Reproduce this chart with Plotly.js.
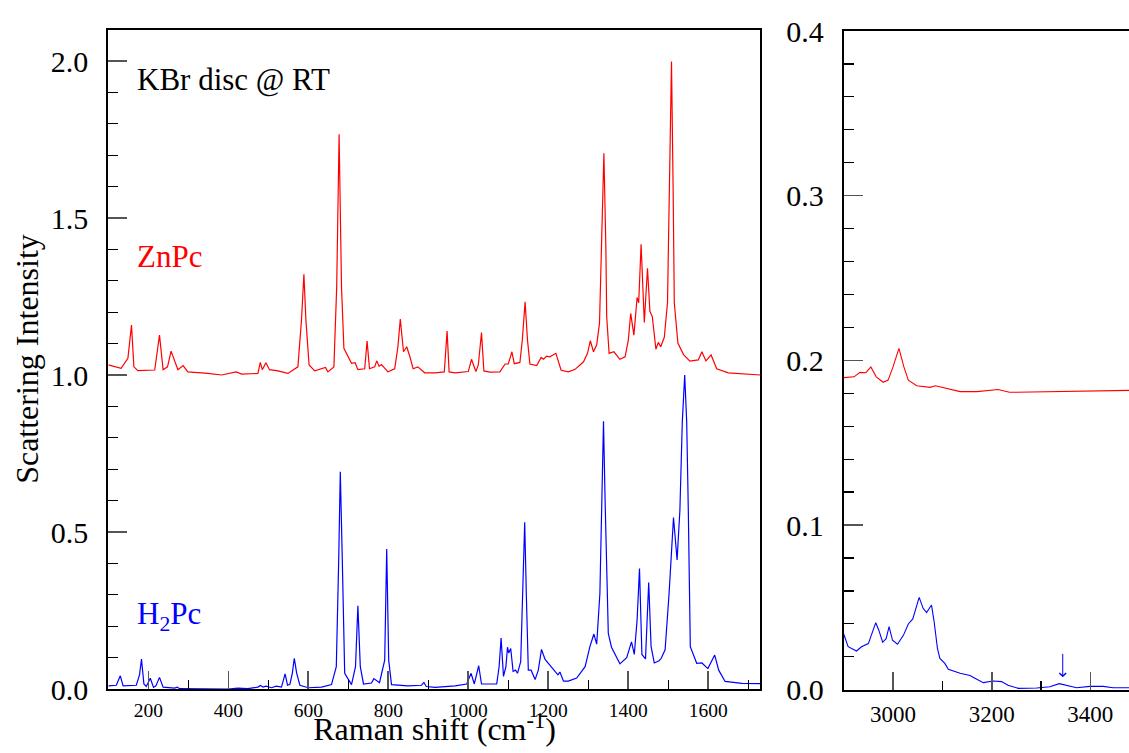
<!DOCTYPE html>
<html>
<head>
<meta charset="utf-8">
<script src="https://cdn.plot.ly/plotly-3.0.1.min.js"></script>
<style>
html,body{margin:0;padding:0;background:#fff;overflow:hidden;font-family:"Liberation Serif",serif;}
#wrap{position:relative;width:1129px;height:753px;}
#chart{position:absolute;left:0;top:0;width:1129px;height:753px;}
#chart text{font-family:"Liberation Serif","Times New Roman",serif !important;}
.lbl{position:absolute;white-space:nowrap;font-family:"Liberation Serif","Times New Roman",serif;pointer-events:none;}
.lbl sub,.lbl sup{font-size:70%;line-height:0;}
</style>
</head>
<body>
<div id="wrap">
  <div id="chart"></div>
  <div class="lbl" id="note" style="left:137px;top:64px;font-size:31px;line-height:31px;color:#000;"></div>
  <div class="lbl" id="zn" style="left:137px;top:241px;font-size:31px;line-height:31px;color:#ff0000;"></div>
  <div class="lbl" id="h2" style="left:137px;top:598px;font-size:31px;line-height:31px;color:#0000ff;"></div>
  <div class="lbl" id="ytitle" style="left:-173px;top:343px;width:400px;height:32px;text-align:center;font-size:32px;line-height:32px;color:#000;transform:rotate(-90deg);transform-origin:50% 50%;"></div>
  <div class="lbl" id="xtitle" style="left:234.5px;top:713px;width:400px;text-align:center;font-size:32px;line-height:32px;color:#000;"></div>
</div>
<script>
// ---------- Data ----------
// Fingerprint region, ZnPc (offset spectrum)
var znShift = [100,132,149,158,164,174,216,228,237,248,257,274,287,299,349,383,420,433,474,480,485,494,503,524,549,574,583,589,594,602,616,643,649,664,671,677,683,689,708,717,724,741,747,753,766,771,777,783,799,816,824,830,838,846,854,862,874,891,917,940,947,952,967,1000,1008,1019,1025,1033,1039,1054,1079,1092,1100,1109,1115,1129,1135,1142,1148,1154,1171,1182,1188,1196,1204,1219,1232,1250,1267,1288,1298,1305,1313,1321,1328,1334,1339,1344,1346,1352,1364,1379,1392,1400,1406,1414,1422,1426,1432,1440,1448,1454,1460,1469,1475,1481,1490,1498,1503,1508,1512,1515,1524,1538,1554,1575,1584,1594,1607,1621,1650,1692,1730];
var znInt = [1.032,1.021,1.053,1.159,1.026,1.014,1.016,1.127,1.017,1.026,1.076,1.017,1.030,1.010,1.005,1.000,1.010,1.003,1.005,1.040,1.017,1.039,1.017,1.013,1.005,1.026,1.175,1.321,1.175,1.032,1.013,1.024,1.010,1.026,1.281,1.767,1.281,1.085,1.037,1.039,1.017,1.020,1.108,1.020,1.026,1.045,1.028,1.033,1.010,1.020,1.090,1.178,1.074,1.090,1.058,1.020,1.026,1.007,1.007,1.010,1.140,1.010,1.007,1.011,1.050,1.011,1.032,1.135,1.013,1.009,1.010,1.035,1.035,1.074,1.036,1.040,1.111,1.233,1.111,1.035,1.030,1.056,1.050,1.060,1.058,1.069,1.015,1.010,1.018,1.042,1.069,1.109,1.074,1.096,1.165,1.450,1.706,1.400,1.186,1.069,1.074,1.050,1.058,1.111,1.196,1.127,1.247,1.230,1.416,1.167,1.340,1.203,1.186,1.082,1.104,1.090,1.120,1.230,1.600,1.998,1.600,1.230,1.102,1.065,1.044,1.048,1.074,1.045,1.064,1.020,1.007,1.003,1.000];

// Fingerprint region, H2Pc
var h2Shift = [100,120,130,137,170,178,183,189,195,205,213,219,228,237,266,272,279,399,424,449,474,480,487,494,508,520,533,537,542,548,554,560,565,571,579,600,633,658,670,676,680,685,691,708,718,724,730,738,758,764,778,791,796,801,808,849,883,889,895,917,967,996,1007,1015,1026,1033,1071,1077,1082,1088,1094,1098,1101,1106,1112,1118,1123,1131,1136,1141,1145,1150,1157,1167,1175,1183,1192,1209,1224,1229,1238,1250,1271,1292,1304,1314,1321,1329,1334,1338,1342,1347,1350,1358,1371,1379,1396,1408,1415,1422,1428,1434,1443,1451,1457,1465,1477,1482,1492,1502,1513,1522,1529,1535,1541,1546,1550,1555,1571,1584,1599,1616,1626,1642,1684,1730];
var h2Int = [0.010,0.012,0.042,0.010,0.012,0.045,0.095,0.016,0.008,0.034,0.005,0.010,0.037,0.006,0.003,0.006,0.001,0.000,0.003,0.001,0.006,0.011,0.006,0.009,0.004,0.009,0.006,0.023,0.048,0.012,0.015,0.050,0.098,0.050,0.012,0.004,0.006,0.014,0.071,0.410,0.692,0.410,0.050,0.014,0.071,0.265,0.071,0.016,0.019,0.033,0.020,0.092,0.446,0.092,0.014,0.010,0.012,0.021,0.008,0.005,0.010,0.016,0.050,0.016,0.074,0.016,0.016,0.071,0.162,0.040,0.071,0.133,0.115,0.129,0.056,0.060,0.050,0.087,0.305,0.531,0.305,0.060,0.060,0.030,0.060,0.126,0.094,0.068,0.045,0.054,0.025,0.025,0.035,0.071,0.135,0.175,0.143,0.305,0.600,0.853,0.600,0.260,0.177,0.133,0.100,0.080,0.100,0.150,0.110,0.220,0.384,0.110,0.096,0.339,0.135,0.083,0.090,0.097,0.125,0.305,0.546,0.411,0.570,0.850,1.000,0.850,0.570,0.135,0.082,0.083,0.065,0.108,0.060,0.024,0.018,0.017];

// C-H / N-H stretch region, ZnPc
var znHiShift = [2900,2921,2933,2945,2955,2966,2980,2990,3000,3012,3022,3031,3048,3075,3086,3108,3136,3170,3213,3236,3304,3372,3426,3480];
var znHiInt = [0.1895,0.1900,0.1927,0.1925,0.1960,0.1900,0.1867,0.1880,0.1960,0.2073,0.1960,0.1880,0.1846,0.1836,0.1846,0.1830,0.1810,0.1810,0.1823,0.1806,0.1810,0.1814,0.1818,0.1818];

// C-H / N-H stretch region, H2Pc
var h2HiShift = [2900,2909,2926,2936,2950,2960,2965,2971,2979,2986,2992,2999,3009,3021,3031,3040,3047,3053,3061,3068,3078,3083,3090,3095,3105,3112,3136,3156,3166,3183,3203,3220,3233,3254,3291,3318,3337,3352,3372,3399,3426,3446,3480];
var h2HiInt = [0.0338,0.0261,0.0235,0.0261,0.0280,0.0373,0.0407,0.0363,0.0288,0.0310,0.0383,0.0300,0.0276,0.0330,0.0399,0.0430,0.0500,0.0561,0.0494,0.0468,0.0514,0.0420,0.0251,0.0190,0.0160,0.0124,0.0100,0.0086,0.0070,0.0043,0.0053,0.0049,0.0027,0.0008,0.0010,0.0018,0.0037,0.0027,0.0012,0.0020,0.0020,0.0012,0.0012];

// Marked N-H position (arrow) in the high-shift panel
var markShift = 3344;
var markInt = 0.0075;

// Labels
var sampleNote = 'KBr disc @ RT';
var znLabel = 'ZnPc';
var h2Label = 'H<sub>2</sub>Pc';
var xTitle = 'Raman shift (cm<sup>-1</sup>)';
var yTitle = 'Scattering Intensity';

document.getElementById('note').textContent = sampleNote;
document.getElementById('zn').textContent = znLabel;
document.getElementById('h2').innerHTML = h2Label;
document.getElementById('ytitle').textContent = yTitle;
document.getElementById('xtitle').innerHTML = xTitle;

// ---------- Chart ----------
var W = 1129, H = 753;
var fam = 'Liberation Serif';
var RED = '#ff0000', BLUE = '#0000ff';

var traces = [
  {x: znShift, y: znInt, type: 'scatter', mode: 'lines', line: {color: RED, width: 1.2}, xaxis: 'x', yaxis: 'y', name: znLabel},
  {x: h2Shift, y: h2Int, type: 'scatter', mode: 'lines', line: {color: BLUE, width: 1.2}, xaxis: 'x', yaxis: 'y', name: 'H2Pc'},
  {x: znHiShift, y: znHiInt, type: 'scatter', mode: 'lines', line: {color: RED, width: 1.1}, xaxis: 'x2', yaxis: 'y2', name: znLabel},
  {x: h2HiShift, y: h2HiInt, type: 'scatter', mode: 'lines', line: {color: BLUE, width: 1.1}, xaxis: 'x2', yaxis: 'y2', name: 'H2Pc'}
];

function axisBase(extra) {
  var a = {
    showline: true, linecolor: '#000', linewidth: 2,
    showgrid: false, zeroline: false,
    ticks: 'inside', tickcolor: '#555', tickwidth: 1.6,
    fixedrange: true
  };
  for (var k in extra) a[k] = extra[k];
  return a;
}

var layout = {
  width: W, height: H,
  margin: {l: 0, r: 0, t: 0, b: 0},
  paper_bgcolor: 'rgba(0,0,0,0)', plot_bgcolor: '#fff',
  showlegend: false,
  font: {family: fam, color: '#000'},
  xaxis: axisBase({
    domain: [108.3 / W, 760.3 / W], range: [100, 1730], anchor: 'y',
    tick0: 0, dtick: 200, ticklen: 18, mirror: true, ticklabelstandoff: 3,
    tickfont: {family: fam, size: 19.5, color: '#000'},
    minor: {ticks: 'inside', dtick: 100, ticklen: 9, tickcolor: '#000', tickwidth: 1.2, showgrid: false}
  }),
  yaxis: axisBase({
    domain: [1 - 689 / H, 1 - 29.6 / H], range: [0, 2.1], anchor: 'x',
    tick0: 0, dtick: 0.5, tickformat: '.1f', ticklen: 19, mirror: true,
    tickfont: {family: fam, size: 30, color: '#000'}, ticklabelstandoff: 12,
    minor: {ticks: 'inside', dtick: 0.1, ticklen: 10, tickcolor: '#000', tickwidth: 1.2, showgrid: false}
  }),
  xaxis2: axisBase({
    domain: [843.7 / W, 1], range: [2900, 3478.3], anchor: 'y2',
    tick0: 0, dtick: 200, ticklen: 18, mirror: true, ticklabelstandoff: 3,
    tickfont: {family: fam, size: 23, color: '#000'},
    minor: {ticks: 'inside', dtick: 100, ticklen: 9, tickcolor: '#000', tickwidth: 1.2, showgrid: false}
  }),
  yaxis2: axisBase({
    domain: [1 - 689.7 / H, 1 - 31 / H], range: [0, 0.4], anchor: 'x2',
    tick0: 0, dtick: 0.1, tickformat: '.1f', ticklen: 19, mirror: false,
    tickfont: {family: fam, size: 30, color: '#000'}, ticklabelstandoff: 12,
    minor: {ticks: 'inside', dtick: 0.02, ticklen: 10, tickcolor: '#000', tickwidth: 1.2, showgrid: false}
  }),
  annotations: [
    {xref: 'x2', yref: 'y2', x: markShift, y: markInt, ax: 0, ay: -25, text: '',
     showarrow: true, arrowhead: 4, arrowsize: 1.3, arrowwidth: 1, arrowcolor: BLUE}
  ]
};

Plotly.newPlot('chart', traces, layout, {displayModeBar: false, staticPlot: true}).then(function () {
  document.body.setAttribute('data-rendered', '1');
});
</script>
</body>
</html>
